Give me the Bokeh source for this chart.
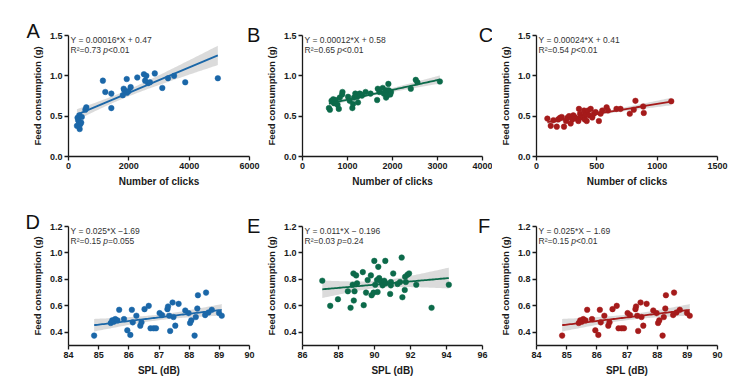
import numpy as np
from bokeh.plotting import figure
from bokeh.models import Range1d, FixedTicker, Label, Title, Spacer
from bokeh.layouts import column, row
from bokeh.embed import file_html
from bokeh.resources import INLINE

# ---------------- data ----------------
A_clicks = [280, 300, 320, 345, 360, 370, 390, 420, 440, 560, 590, 1140, 1220, 1420, 1420, 1800, 1830,
            1850, 1930, 1940, 1990, 2060, 2280, 2500, 2540, 2580, 2640, 2700, 2860, 3110, 3300, 3500, 3870, 4950]
A_feed = [0.38, 0.48, 0.45, 0.43, 0.51, 0.34, 0.40, 0.42, 0.49, 0.58, 0.61, 0.94, 0.80, 0.78, 0.60, 0.76, 0.84,
          0.82, 0.96, 0.79, 0.81, 0.86, 0.98, 1.02, 0.94, 1.00, 0.91, 0.92, 1.03, 0.85, 0.97, 1.00, 0.92, 0.97]

B_clicks = [587, 609, 646, 683, 700, 741, 778, 807, 829, 881, 888, 1013, 1050, 1108, 1123, 1145, 1174, 1190,
            1218, 1233, 1270, 1290, 1321, 1402, 1512, 1659, 1673, 1710, 1783, 1806, 1857, 1857, 1879, 1908,
            1916, 1950, 1967, 2407, 2517, 2554, 3053]
B_feed = [0.60, 0.58, 0.69, 0.71, 0.66, 0.70, 0.64, 0.59, 0.73, 0.77, 0.80, 0.74, 0.69, 0.60, 0.65, 0.73, 0.78,
          0.76, 0.74, 0.67, 0.78, 0.77, 0.755, 0.80, 0.78, 0.70, 0.84, 0.80, 0.85, 0.78, 0.82, 0.73, 0.755,
          0.90, 0.82, 0.77, 0.80, 0.84, 0.95, 0.92, 0.93]

C_clicks = [90, 118, 140, 168, 180, 195, 209, 228, 245, 256, 270, 283, 297, 305, 316, 330, 347, 352, 361, 370,
            380, 394, 400, 407, 416, 427, 435, 449, 462, 476, 490, 517, 531, 545, 581, 592, 663, 696, 773, 806,
            820, 884, 889, 1117]
C_feed = [0.47, 0.38, 0.45, 0.37, 0.46, 0.48, 0.49, 0.37, 0.44, 0.48, 0.50, 0.41, 0.46, 0.51, 0.49, 0.47, 0.44,
          0.59, 0.53, 0.50, 0.485, 0.57, 0.46, 0.52, 0.44, 0.57, 0.51, 0.59, 0.485, 0.53, 0.55, 0.44, 0.53,
          0.57, 0.61, 0.57, 0.59, 0.59, 0.53, 0.58, 0.69, 0.62, 0.54, 0.685]

D_spl = [84.85, 85.40, 85.45, 85.50, 85.55, 85.62, 85.68, 85.84, 85.95, 86.05, 86.10, 86.13, 86.25, 86.38,
         86.42, 86.52, 86.66, 86.72, 86.82, 86.90, 87.02, 87.10, 87.28, 87.30, 87.34, 87.37, 87.45, 87.48,
         87.54, 87.65, 87.87, 87.98, 88.03, 88.07, 88.18, 88.22, 88.27, 88.29, 88.53, 88.56, 88.64, 88.75,
         88.99, 89.08]
D_feed = [0.375, 0.47, 0.49, 0.48, 0.50, 0.49, 0.57, 0.50, 0.415, 0.38, 0.57, 0.475, 0.525, 0.45, 0.475,
          0.575, 0.60, 0.43, 0.43, 0.43, 0.545, 0.53, 0.575, 0.595, 0.525, 0.41, 0.625, 0.515, 0.45, 0.615,
          0.565, 0.545, 0.47, 0.49, 0.375, 0.515, 0.58, 0.68, 0.53, 0.70, 0.55, 0.57, 0.545, 0.525]

E_spl = [87.10, 87.54, 87.97, 88.52, 88.67, 88.79, 88.83, 88.85, 88.89, 88.98, 89.03, 89.35, 89.40, 89.53,
         89.62, 89.80, 89.84, 89.95, 89.99, 90.04, 90.14, 90.17, 90.21, 90.26, 90.36, 90.45, 90.54, 90.60,
         90.63, 90.87, 90.91, 90.91, 91.04, 91.28, 91.42, 91.51, 91.55, 91.68, 91.70, 91.74, 91.83, 91.92,
         92.32, 93.17, 94.13]
E_feed = [0.79, 0.60, 0.65, 0.71, 0.585, 0.76, 0.845, 0.64, 0.71, 0.83, 0.77, 0.855, 0.605, 0.70, 0.795,
          0.83, 0.68, 0.70, 0.94, 0.76, 0.795, 0.705, 0.895, 0.81, 0.785, 0.755, 0.79, 0.94, 0.77, 0.69,
          0.78, 0.755, 0.845, 0.765, 0.78, 0.965, 0.665, 0.72, 0.82, 0.78, 0.835, 0.845, 0.76, 0.585, 0.76]

F_spl = list(D_spl)
F_feed = list(D_feed)

TOP_YTICKS = [0.0, 0.5, 1.0, 1.5]
TOP_YLABELS = ["0.0", "0.5", "1.0", "1.5"]
BOT_YTICKS = [0.4, 0.6, 0.8, 1.0, 1.2]
BOT_YLABELS = ["0.4", "0.6", "0.8", "1.0", "1.2"]
A_XTICKS = [0, 2000, 4000, 6000]
B_XTICKS = [0, 1000, 2000, 3000, 4000]
C_XTICKS = [0, 500, 1000, 1500]
D_XTICKS = [84, 85, 86, 87, 88, 89, 90]
E_XTICKS = [86, 88, 90, 92, 94, 96]
F_XTICKS = [84, 85, 86, 87, 88, 89, 90]

EQUATIONS = ["Y = 0.00016*X + 0.47", "Y = 0.00012*X + 0.58", "Y = 0.00024*X + 0.41",
             "Y = 0.025*X \u22121.69", "Y = 0.011*X \u2212 0.196", "Y = 0.025*X \u2212 1.69"]
R2_TEXT = ["R\u00b2=0.73 ", "R\u00b2=0.65 ", "R\u00b2=0.54 ", "R\u00b2=0.15 ", "R\u00b2=0.03 ", "R\u00b2=0.15 "]
P_TEXT = ["<0.01", "<0.01", "<0.01", "=0.055", "=0.24", "<0.01"]
LETTERS = ["A", "B", "C", "D", "E", "F"]

BLUE = "#1b67a8"
GREEN = "#0c6a4a"
RED = "#a51b1b"
FONT = "Liberation Sans"
EQ_FS = 8.5
LETTER_SO = -20

# Arial/Liberation Sans advance widths (em) for laying out the mixed-style text
W = {'.': .278, '=': .584, '<': .584, 'R': .722, '\u00b2': .333, ' ': .278, 'p': .556}


def tw(s, fs):
    return sum(W.get(c, .556) for c in s) * fs


def fit_band(x, y):
    x = np.asarray(x, float)
    y = np.asarray(y, float)
    n = len(x)
    b, a = np.polyfit(x, y, 1)
    xs = np.linspace(x.min(), x.max(), 80)
    yh = a + b * xs
    res = y - (a + b * x)
    s = np.sqrt(np.sum(res ** 2) / (n - 2))
    se = s * np.sqrt(1.0 / n + (xs - x.mean()) ** 2 / np.sum((x - x.mean()) ** 2))
    t = 2.02
    return xs, yh, yh - t * se, yh + t * se


def style_title(t, text, offset):
    t.text = text
    t.align = "left"
    t.offset = offset
    t.standoff = LETTER_SO
    t.vertical_align = "bottom"
    t.text_font = FONT
    t.text_font_size = "20px"
    t.text_font_style = "normal"
    t.text_color = "#111111"


def make_panel(i, x, y, color, xr, yr, xticks, yticks, ylabels, xtitle, width, height,
               bl, br, bt, bb, letters):
    p = figure(width=width, height=height, x_range=Range1d(*xr), y_range=Range1d(*yr),
               output_backend="svg", toolbar_location=None,
               min_border_left=bl, min_border_right=br, min_border_top=bt, min_border_bottom=bb)
    # panel letters as titles, shifted horizontally from the frame's left edge
    if letters:
        style_title(p.title, letters[0][0], letters[0][1])
        for txt, off in letters[1:]:
            t = Title()
            style_title(t, txt, off)
            p.add_layout(t, "above")
    else:
        style_title(p.title, "", 0)

    p.outline_line_color = None
    p.xgrid.visible = False
    p.ygrid.visible = False
    p.background_fill_color = "white"
    p.border_fill_color = "white"

    xs, yh, lo, hi = fit_band(x, y)
    p.varea(x=xs, y1=lo, y2=hi, fill_color="#c8c8c8", fill_alpha=0.65)
    p.scatter(x, y, size=5.6, fill_color=color, line_color=color, line_width=0.5)
    p.line(xs, yh, line_color=color, line_width=1.8)

    p.xaxis.ticker = FixedTicker(ticks=xticks)
    p.yaxis.ticker = FixedTicker(ticks=yticks)
    p.yaxis.major_label_overrides = {t: l for t, l in zip(yticks, ylabels)}
    p.xaxis.axis_label = xtitle
    p.yaxis.axis_label = "Feed consumption (g)"
    for ax in (p.xaxis, p.yaxis):
        ax.axis_line_color = "#1a1a1a"
        ax.axis_line_width = 1.3
        ax.major_tick_line_color = "#1a1a1a"
        ax.major_tick_line_width = 1.3
        ax.major_tick_in = 0
        ax.major_tick_out = 4
        ax.minor_tick_line_color = None
        ax.major_label_text_font = FONT
        ax.major_label_text_font_style = "bold"
        ax.major_label_text_font_size = "9px"
        ax.major_label_text_color = "#1a1a1a"
        ax.major_label_standoff = 2
        ax.axis_label_text_font = FONT
        ax.axis_label_text_font_style = "bold"
        ax.axis_label_text_color = "#1a1a1a"
    p.xaxis.axis_label_text_font_size = "10px"
    p.yaxis.axis_label_text_font_size = "9.5px"
    p.xaxis.axis_label_standoff = 4
    p.yaxis.axis_label_standoff = 4

    # equation and statistics text
    x0, y1 = xr[0], yr[1]
    common = dict(text_font=FONT, text_font_size=f"{EQ_FS}px", text_color="#333333",
                  text_baseline="top", text_align="left")
    p.add_layout(Label(x=x0, y=y1, x_offset=2, y_offset=1, text=EQUATIONS[i], **common))
    yo2 = -9.5
    p.add_layout(Label(x=x0, y=y1, x_offset=2, y_offset=yo2, text=R2_TEXT[i], **common))
    dx = 2 + tw(R2_TEXT[i], EQ_FS)
    p.add_layout(Label(x=x0, y=y1, x_offset=dx, y_offset=yo2, text="p",
                       text_font_style="italic", **common))
    dx += tw("p", EQ_FS)
    p.add_layout(Label(x=x0, y=y1, x_offset=dx, y_offset=yo2, text=P_TEXT[i], **common))
    return p


TOP_PAD = 16
TOP_H, BOT_H = 175, 187
pA = make_panel(0, A_clicks, A_feed, BLUE, (0, 6000), (0, 1.5), A_XTICKS, TOP_YTICKS, TOP_YLABELS,
                "Number of clicks", 262, TOP_H, 68, 13, 19, 35,
                [(LETTERS[0], -42), (LETTERS[1], 178.5)])
pB = make_panel(1, B_clicks, B_feed, GREEN, (0, 4000), (0, 1.5), B_XTICKS, TOP_YTICKS, TOP_YLABELS,
                "Number of clicks", 230, TOP_H, 39, 10, 19, 35,
                [(LETTERS[2], 176.3)])
pC = make_panel(2, C_clicks, C_feed, RED, (0, 1500), (0, 1.5), C_XTICKS, TOP_YTICKS, TOP_YLABELS,
                "Number of clicks", 250, TOP_H, 44, 25, 19, 35, [])
pD = make_panel(3, D_spl, D_feed, BLUE, (84, 90), (0.3, 1.2), D_XTICKS, BOT_YTICKS, BOT_YLABELS,
                "SPL (dB)", 262, BOT_H, 68, 13, 35, 32,
                [(LETTERS[3], -43), (LETTERS[4], 178.4)])
pE = make_panel(4, E_spl, E_feed, GREEN, (86, 96), (0.3, 1.2), E_XTICKS, BOT_YTICKS, BOT_YLABELS,
                "SPL (dB)", 230, BOT_H, 39, 10, 35, 32,
                [(LETTERS[5], 175.6)])
pF = make_panel(5, F_spl, F_feed, RED, (84, 90), (0.3, 1.2), F_XTICKS, BOT_YTICKS, BOT_YLABELS,
                "SPL (dB)", 250, BOT_H, 44, 25, 35, 32, [])

layout = column(Spacer(width=10, height=TOP_PAD), row(pA, pB, pC), row(pD, pE, pF))

with open("out.html", "w") as f:
    f.write(file_html(layout, INLINE))
